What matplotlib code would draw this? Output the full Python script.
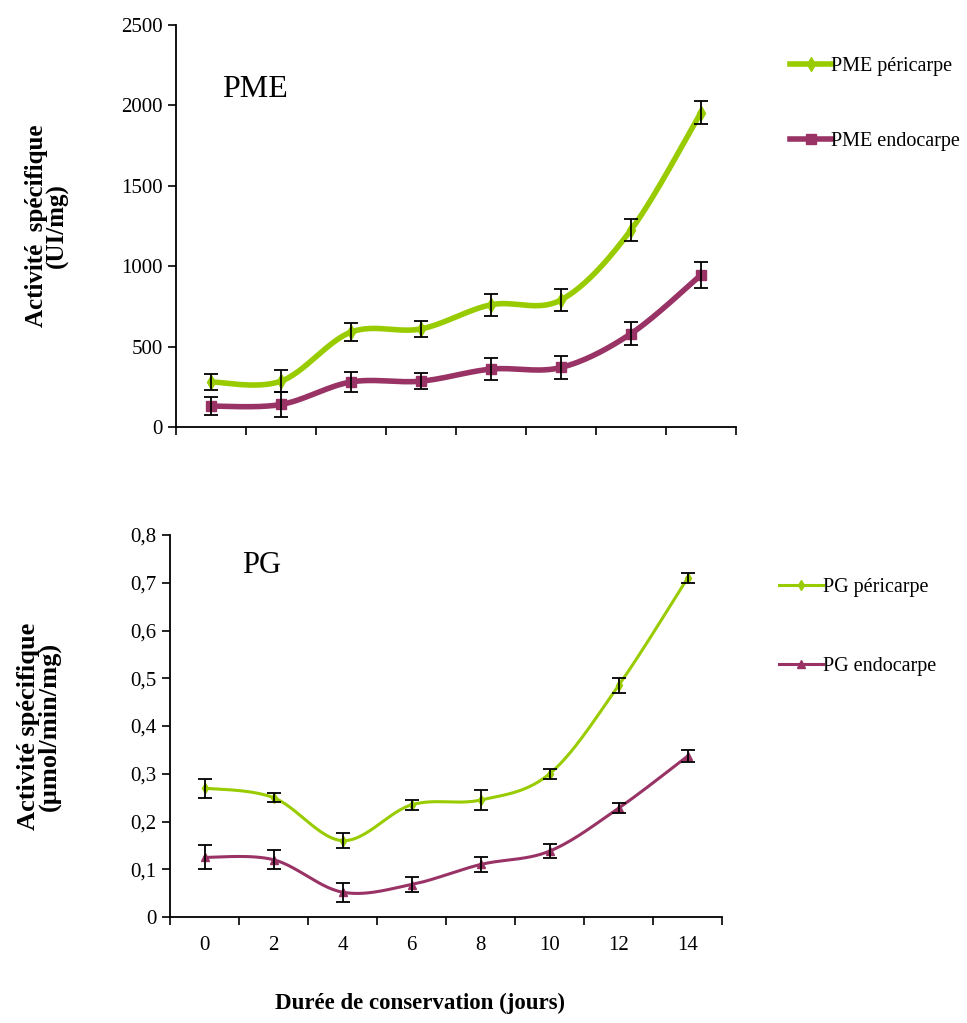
import matplotlib
matplotlib.use("Agg")
import matplotlib.pyplot as plt
from matplotlib.ticker import FuncFormatter
import numpy as np

days = [0, 2, 4, 6, 8, 10, 12, 14]

pme_peri = [280, 285, 590, 610, 760, 790, 1225, 1955]
pme_peri_err = [50, 70, 55, 50, 70, 70, 70, 70]
pme_endo = [130, 140, 280, 285, 360, 370, 580, 945]
pme_endo_err = [55, 75, 60, 50, 70, 70, 70, 80]

pg_peri = [0.270, 0.250, 0.160, 0.235, 0.245, 0.300, 0.485, 0.710]
pg_peri_err = [0.020, 0.010, 0.015, 0.010, 0.020, 0.010, 0.015, 0.010]
pg_endo = [0.125, 0.120, 0.052, 0.068, 0.110, 0.138, 0.228, 0.337]
pg_endo_err = [0.025, 0.020, 0.020, 0.015, 0.015, 0.015, 0.010, 0.012]

GREEN = '#99cc00'
PURPLE = '#993366'

plt.rcParams['font.family'] = ['Liberation Serif', 'DejaVu Serif']


def smooth(x, y, n=30):
    # Excel-like smoothed line (Catmull-Rom bezier through the points)
    p = np.column_stack([x, y]).astype(float)
    pts = [p[0]]
    for i in range(len(p) - 1):
        p0 = p[i - 1] if i > 0 else p[i]
        p1, p2 = p[i], p[i + 1]
        p3 = p[i + 2] if i + 2 < len(p) else p[i + 1]
        c1 = p1 + (p2 - p0) / 6
        c2 = p2 - (p3 - p1) / 6
        t = np.linspace(0, 1, n)[1:, None]
        seg = ((1 - t) ** 3) * p1 + 3 * ((1 - t) ** 2) * t * c1 + 3 * (1 - t) * t ** 2 * c2 + t ** 3 * p2
        pts.extend(seg)
    pts = np.array(pts)
    return pts[:, 0], pts[:, 1]


def draw(ax, series, lw, ymax, yfmt):
    x = np.arange(len(days)) + 0.5
    handles = []
    for vals, err, color, marker, ms, label in series:
        sx, sy = smooth(x, vals)
        ax.plot(sx, sy, color=color, lw=lw, zorder=2, solid_capstyle='round')
        ax.plot(x, vals, ls='none', marker=marker, ms=ms, color=color, zorder=3)
        ax.errorbar(x, vals, yerr=err, fmt='none', ecolor='black', elinewidth=1.3,
                    capsize=5, capthick=1.3, zorder=4)
        h, = ax.plot([], [], color=color, lw=lw, marker=marker, ms=ms, label=label)
        handles.append(h)
    ax.set_xlim(0, len(days))
    ax.set_ylim(0, ymax)
    ax.set_xticks(np.arange(len(days) + 1))
    ax.set_xticklabels([])
    for s in ['top', 'right']:
        ax.spines[s].set_visible(False)
    for s in ['left', 'bottom']:
        ax.spines[s].set_linewidth(1.3)
    ax.tick_params(direction='out', length=6, width=1.2, labelsize=15)
    ax.yaxis.set_major_formatter(FuncFormatter(yfmt))
    return handles


fig = plt.figure(figsize=(9.67, 10.23), dpi=100)

ax1 = fig.add_axes([0.182, 0.5826, 0.579, 0.393])
h1 = draw(ax1, [
    (pme_peri, pme_peri_err, GREEN, 'd', 7, 'PME péricarpe'),
    (pme_endo, pme_endo_err, PURPLE, 's', 7, 'PME endocarpe'),
], 4, 2500, lambda v, p: f'{v:.0f}')
ax1.set_yticks(np.arange(0, 2501, 500))
ax1.text(0.083, 0.82, 'PME', transform=ax1.transAxes, fontsize=23)
ax1.set_ylabel('Activité  spécifique\n(UI/mg)', fontsize=18, fontweight='bold', labelpad=38,
               linespacing=0.85)
ax1.legend(handles=h1, loc='upper left', bbox_to_anchor=(1.065, 0.965), frameon=False,
           fontsize=14.5, labelspacing=2.75, handlelength=2.0, handletextpad=0.0)

ax2 = fig.add_axes([0.1758, 0.1036, 0.571, 0.3734])
h2 = draw(ax2, [
    (pg_peri, pg_peri_err, GREEN, 'd', 5, 'PG péricarpe'),
    (pg_endo, pg_endo_err, PURPLE, '^', 6, 'PG endocarpe'),
], 2.2, 0.8, lambda v, p: '0' if abs(v) < 1e-9 else f'{v:.1f}'.replace('.', ','))
ax2.set_yticks(np.arange(0, 0.81, 0.1))
ax2.set_xticks(np.arange(len(days)) + 0.5, minor=True)
ax2.set_xticklabels([str(d) for d in days], minor=True)
ax2.tick_params(axis='x', which='minor', length=0, labelsize=15, pad=14)
ax2.text(0.13, 0.9, 'PG', transform=ax2.transAxes, fontsize=22)
ax2.set_ylabel('Activité spécifique\n(µmol/min/mg)', fontsize=19, fontweight='bold', labelpad=50,
               linespacing=0.85)
ax2.legend(handles=h2, loc='upper left', bbox_to_anchor=(1.07, 0.936), frameon=False,
           fontsize=14.5, labelspacing=3.0, handlelength=2.2, handletextpad=0.0)

fig.text(420 / 967, 1 - 1003 / 1023, 'Durée de conservation (jours)', fontsize=16.5,
         fontweight='bold', ha='center', va='center')

fig.savefig('out.png', dpi=100)
